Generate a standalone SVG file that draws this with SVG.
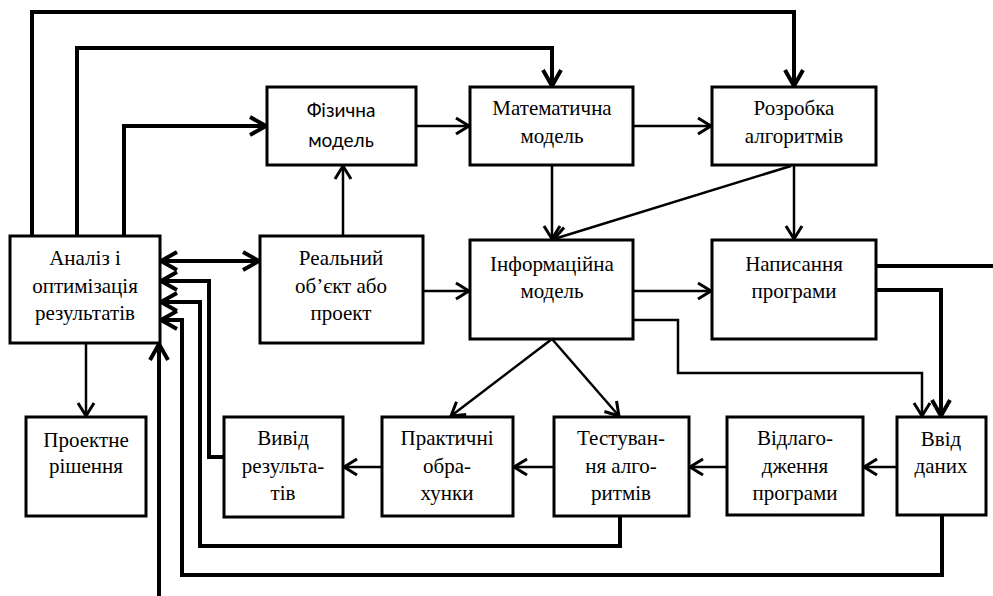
<svg xmlns="http://www.w3.org/2000/svg" width="993" height="596" viewBox="0 0 993 596">
<style>
  .box { fill: #ffffff; stroke: #000000; stroke-width: 3; }
  .t { font-family: "Liberation Serif", "Times New Roman", serif; font-size: 21px; fill: #000000; text-anchor: middle; }
  .s { font-family: Lato, "Noto Sans", sans-serif; font-size: 19px; fill: #000000; text-anchor: middle; }
  .c { fill: none; stroke: #000000; stroke-width: 2.5; stroke-linejoin: miter; marker-end: url(#ah); }
  .k { fill: none; stroke: #000000; stroke-width: 4; stroke-linejoin: miter; marker-end: url(#ahk); }
  .n { fill: none; stroke: #000000; stroke-width: 4; }
</style>
<defs>
  <marker id="ah" markerUnits="userSpaceOnUse" markerWidth="20" markerHeight="24" viewBox="-2 -2 20 24" refX="14" refY="9" orient="auto">
    <path d="M1,1 L14,9 L1,17" fill="none" stroke="#000" stroke-width="3"/>
  </marker>
  <marker id="ahk" markerUnits="userSpaceOnUse" markerWidth="24" markerHeight="26" viewBox="-2 -2 24 26" refX="17" refY="10" orient="auto-start-reverse">
    <path d="M1,1 L17,10 L1,19" fill="none" stroke="#000" stroke-width="4"/>
  </marker>
</defs>
<rect width="993" height="596" fill="#ffffff"/>

<g id="connectors">
  <path class="k" d="M32,236 V12 H794 V86"/>
  <path class="k" d="M77,236 V48 H552 V86"/>
  <path class="k" d="M124,236 V126 H266"/>
  <path class="c" d="M416,126 H469"/>
  <path class="c" d="M633,126 H711"/>
  <path class="c" d="M343,236 V166"/>
  <path class="k" d="M161,261 H259" style="marker-start:url(#ahk)"/>
  <path class="c" d="M423,291 H469"/>
  <path class="c" d="M552,165 V239"/>
  <path class="c" d="M791,166 L554,239"/>
  <path class="c" d="M794,165 V239"/>
  <path class="c" d="M633,291 H711"/>
  <path class="n" d="M876,266 H993"/>
  <path class="k" d="M876,290 H941 V416"/>
  <path class="c" d="M633,320 H678 V373 H922 V416"/>
  <path class="c" d="M552,339 L451,416"/>
  <path class="c" d="M552,339 L619,416"/>
  <path class="c" d="M897,467 H864"/>
  <path class="c" d="M727,467 H690"/>
  <path class="c" d="M554,467 H514"/>
  <path class="c" d="M382,467 H344"/>
  <path class="k" d="M224,457 H209 V281 H161"/>
  <path class="k" d="M620,516 V546 H200 V302 H161"/>
  <path class="k" d="M942,515 V575 H182 V320 H161"/>
  <path class="k" d="M159,596 V344"/>
  <path class="c" d="M86,343 V416"/>
</g>

<g id="analiz">
  <rect class="box" x="10" y="236" width="150" height="107"/>
  <text class="t"><tspan x="85" y="265">Аналіз і</tspan><tspan x="85" y="293">оптимізація</tspan><tspan x="85" y="320">результатів</tspan></text>
</g>
<g id="fizychna">
  <rect class="box" x="267" y="87" width="149" height="78"/>
  <text class="s"><tspan x="341" y="117">Фізична</tspan><tspan x="341" y="147">модель</tspan></text>
</g>
<g id="matematychna">
  <rect class="box" x="470" y="87" width="163" height="78"/>
  <text class="t"><tspan x="552" y="115">Математична</tspan><tspan x="552" y="143">модель</tspan></text>
</g>
<g id="rozrobka">
  <rect class="box" x="712" y="87" width="164" height="78"/>
  <text class="t"><tspan x="794" y="115">Розробка</tspan><tspan x="794" y="143">алгоритмів</tspan></text>
</g>
<g id="realnyi">
  <rect class="box" x="260" y="236" width="163" height="107"/>
  <text class="t"><tspan x="341" y="265">Реальний</tspan><tspan x="341" y="293">об’єкт або</tspan><tspan x="341" y="320">проект</tspan></text>
</g>
<g id="informatsiina">
  <rect class="box" x="470" y="240" width="163" height="99"/>
  <text class="t"><tspan x="552" y="271">Інформаційна</tspan><tspan x="552" y="298">модель</tspan></text>
</g>
<g id="napysannia">
  <rect class="box" x="712" y="240" width="164" height="99"/>
  <text class="t"><tspan x="794" y="271">Написання</tspan><tspan x="794" y="298">програми</tspan></text>
</g>
<g id="proektne">
  <rect class="box" x="26" y="417" width="120" height="99"/>
  <text class="t"><tspan x="86" y="447">Проектне</tspan><tspan x="86" y="473">рішення</tspan></text>
</g>
<g id="vyvid">
  <rect class="box" x="224" y="417" width="119" height="100"/>
  <text class="t"><tspan x="283" y="445">Вивід</tspan><tspan x="283" y="473">результа-</tspan><tspan x="283" y="500">тів</tspan></text>
</g>
<g id="praktychni">
  <rect class="box" x="382" y="417" width="131" height="99"/>
  <text class="t"><tspan x="447" y="445">Практичні</tspan><tspan x="447" y="473">обра-</tspan><tspan x="447" y="500">хунки</tspan></text>
</g>
<g id="testuvannia">
  <rect class="box" x="554" y="417" width="135" height="99"/>
  <text class="t"><tspan x="621" y="445">Тестуван-</tspan><tspan x="621" y="473">ня алго-</tspan><tspan x="621" y="500">ритмів</tspan></text>
</g>
<g id="vidlagodzhennia">
  <rect class="box" x="727" y="417" width="136" height="98"/>
  <text class="t"><tspan x="795" y="445">Відлаго-</tspan><tspan x="795" y="473">дження</tspan><tspan x="795" y="500">програми</tspan></text>
</g>
<g id="vvid">
  <rect class="box" x="897" y="417" width="89" height="98"/>
  <text class="t"><tspan x="941" y="446">Ввід</tspan><tspan x="941" y="473">даних</tspan></text>
</g>
</svg>
